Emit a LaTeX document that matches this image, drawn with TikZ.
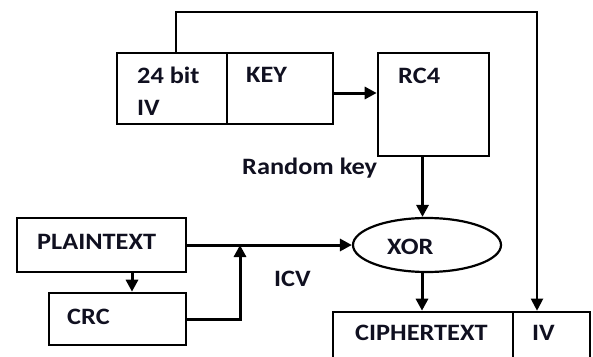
\documentclass[tikz,border=0pt]{standalone}
\usepackage{fontspec}
\setmainfont{Carlito}[FakeStretch=1.12]
\usetikzlibrary{arrows.meta,shapes.geometric}
\definecolor{txt}{HTML}{101020}
\tikzset{
  box/.style={draw=black, line width=2.6pt, rectangle, inner sep=0pt},
  lbl/.style={anchor=west, inner sep=0pt, text=txt, font=\fontsize{23.5}{27}\selectfont\bfseries},
  arr/.style={line width=3pt, -{Triangle[length=12pt,width=12pt]}},
  loop/.style={line width=2pt, -{Triangle[length=12pt,width=12pt]}}
}
\begin{document}
\begin{tikzpicture}[x=1pt,y=-1pt]
\useasboundingbox (0,0) rectangle (593,356);
\clip (0,0) rectangle (593,356);
% boxes
\node[box, minimum width=110pt, minimum height=71pt] (iv) at (172,88.5) {};
\node[box, minimum width=106pt, minimum height=71pt] (key) at (280,88.5) {};
\node[box, minimum width=111pt, minimum height=103pt] (rc4) at (433.5,104.5) {};
\node[box, minimum width=169pt, minimum height=54pt] (plain) at (101.5,245) {};
\node[box, minimum width=137pt, minimum height=52pt] (crc) at (117.5,319) {};
\node[draw=black, line width=2.2pt, ellipse, minimum width=148pt, minimum height=54pt, inner sep=0pt] (xor) at (427,245) {};
\node[box, minimum width=180pt, minimum height=58pt] (cipher) at (423,341) {};
\node[box, minimum width=77pt, minimum height=58pt] (ivout) at (551.5,341) {};
% labels
\node[lbl] (t24) at (137,75) {24 bit};
\node[lbl] (tiv) at (137,108) {IV};
\node[lbl] (tkey) at (246,75) {KEY};
\node[lbl] (trc4) at (398,76) {RC4};
\node[lbl] (trk) at (242,168) {Random key};
\node[lbl] (tplain) at (37,242) {PLAINTEXT};
\node[lbl] (tcrc) at (67,317) {CRC};
\node[lbl] (ticv) at (274,279) {ICV};
\node[lbl] (txor) at (387,247) {XOR};
\node[lbl] (tcipher) at (355,333) {CIPHERTEXT};
\node[lbl] (tivo) at (532,333) {IV};
% connectors
\coordinate (tr) at (537,12);
\coordinate (j) at (240,245);
\draw[arr] ([yshift=-4.5pt]key.east) -- ([yshift=-4.5pt]key.east -| rc4.west);
\draw[arr] ([xshift=-11pt]rc4.south) -- ([xshift=-11pt]rc4.south |- xor.north);
\draw[arr] (plain.east) -- (xor.west);
\draw[arr] ([xshift=30.5pt]plain.south) -- ([xshift=30.5pt]plain.south |- crc.north);
\draw[arr] (crc.east) -| (j);
\draw[arr] ([xshift=-5pt]xor.south) -- ([xshift=-5pt]xor.south |- cipher.north);
\draw[loop] ([xshift=4pt]iv.north) |- (tr) -- (tr |- ivout.north);
\end{tikzpicture}
\end{document}
